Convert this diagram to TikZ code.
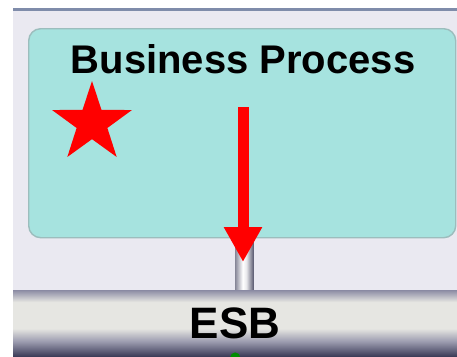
\documentclass[tikz,border=0pt]{standalone}
\usepackage{fontspec}
\setmainfont{Liberation Sans}
\usepackage{xcolor}
\usepackage{tikz}
\usetikzlibrary{arrows.meta,shapes.geometric,positioning}
\definecolor{panelBg}{HTML}{EAE9F1}
\definecolor{topRule}{HTML}{7F8CAA}
\definecolor{bpTeal}{HTML}{A6E3DF}
\definecolor{bpEdge}{HTML}{9CBDBD}
\definecolor{busTop}{HTML}{8C8CA4}
\definecolor{busMid}{HTML}{E6E6E2}
\definecolor{busLow}{HTML}{9A9AAE}
\definecolor{busBot}{HTML}{3C3C58}
\definecolor{pipeL}{HTML}{8E8E9E}
\definecolor{pipeR}{HTML}{5A5A70}
% bus tube: dark rim, light band
\pgfdeclareverticalshading{busShade}{100bp}{%
  color(0bp)=(busBot); color(25bp)=(busBot); color(36bp)=(busLow);
  color(46bp)=(busMid); color(66bp)=(busMid); color(75bp)=(busTop); color(100bp)=(busTop)}
\pgfdeclarehorizontalshading{pipeShade}{100bp}{%
  color(0bp)=(pipeL); color(25bp)=(pipeL); color(45bp)=(white);
  color(55bp)=(white!80!pipeL); color(75bp)=(pipeR); color(100bp)=(pipeR)}
\tikzset{
  panel/.style={fill=panelBg},                 % light backdrop
  bpBox/.style={draw=bpEdge, line width=1.4pt, fill=bpTeal, rounded corners=12pt, inner sep=0pt},
  bpLabel/.style={font=\bfseries\fontsize{40}{40}\selectfont, inner sep=0pt},
  busBar/.style={shading=busShade, inner sep=0pt, font=\bfseries\fontsize{44}{44}\selectfont},
  pipe/.style={shading=pipeShade, inner sep=0pt},
  flowArrow/.style={-{Triangle[width=36pt,length=35pt]}, draw=red, line width=11pt},
  redStar/.style={star, star points=5, star point ratio=2.6, fill=red, minimum size=84pt, inner sep=0pt}
}
\begin{document}
\begin{tikzpicture}[x=1pt,y=-1pt]
  \useasboundingbox (0,0) rectangle (457,356);
  % backdrop
  \fill[panel] (13,10) rectangle (457,291);
  \fill[topRule] (13,8) rectangle (457,10.5);
  % business process box
  \node[bpBox, minimum width=427pt, minimum height=209pt, anchor=north west] (bp) at (28,28) {};
  \node[bpLabel] (bpTitle) at (243,59) {Business Process};
  % pipe down to the bus
  \node[pipe, minimum width=18pt, minimum height=56pt, anchor=north] (pipeN) at (244.5,237) {};
  % the bus
  \node[busBar, minimum width=444pt, minimum height=66pt, anchor=north west] (esb) at (13,290) {ESB};
  \fill[green!55!black] (esb.south) ++(0,1) circle (5);
  % flow arrow into the bus
  \coordinate (arrTop) at (243,107);
  \coordinate (arrTip) at (243,262);
  \draw[flowArrow] (arrTop) -- (arrTip);
  % marker
  \node[redStar] (mark1) at (92,123) {};
\end{tikzpicture}
\end{document}
